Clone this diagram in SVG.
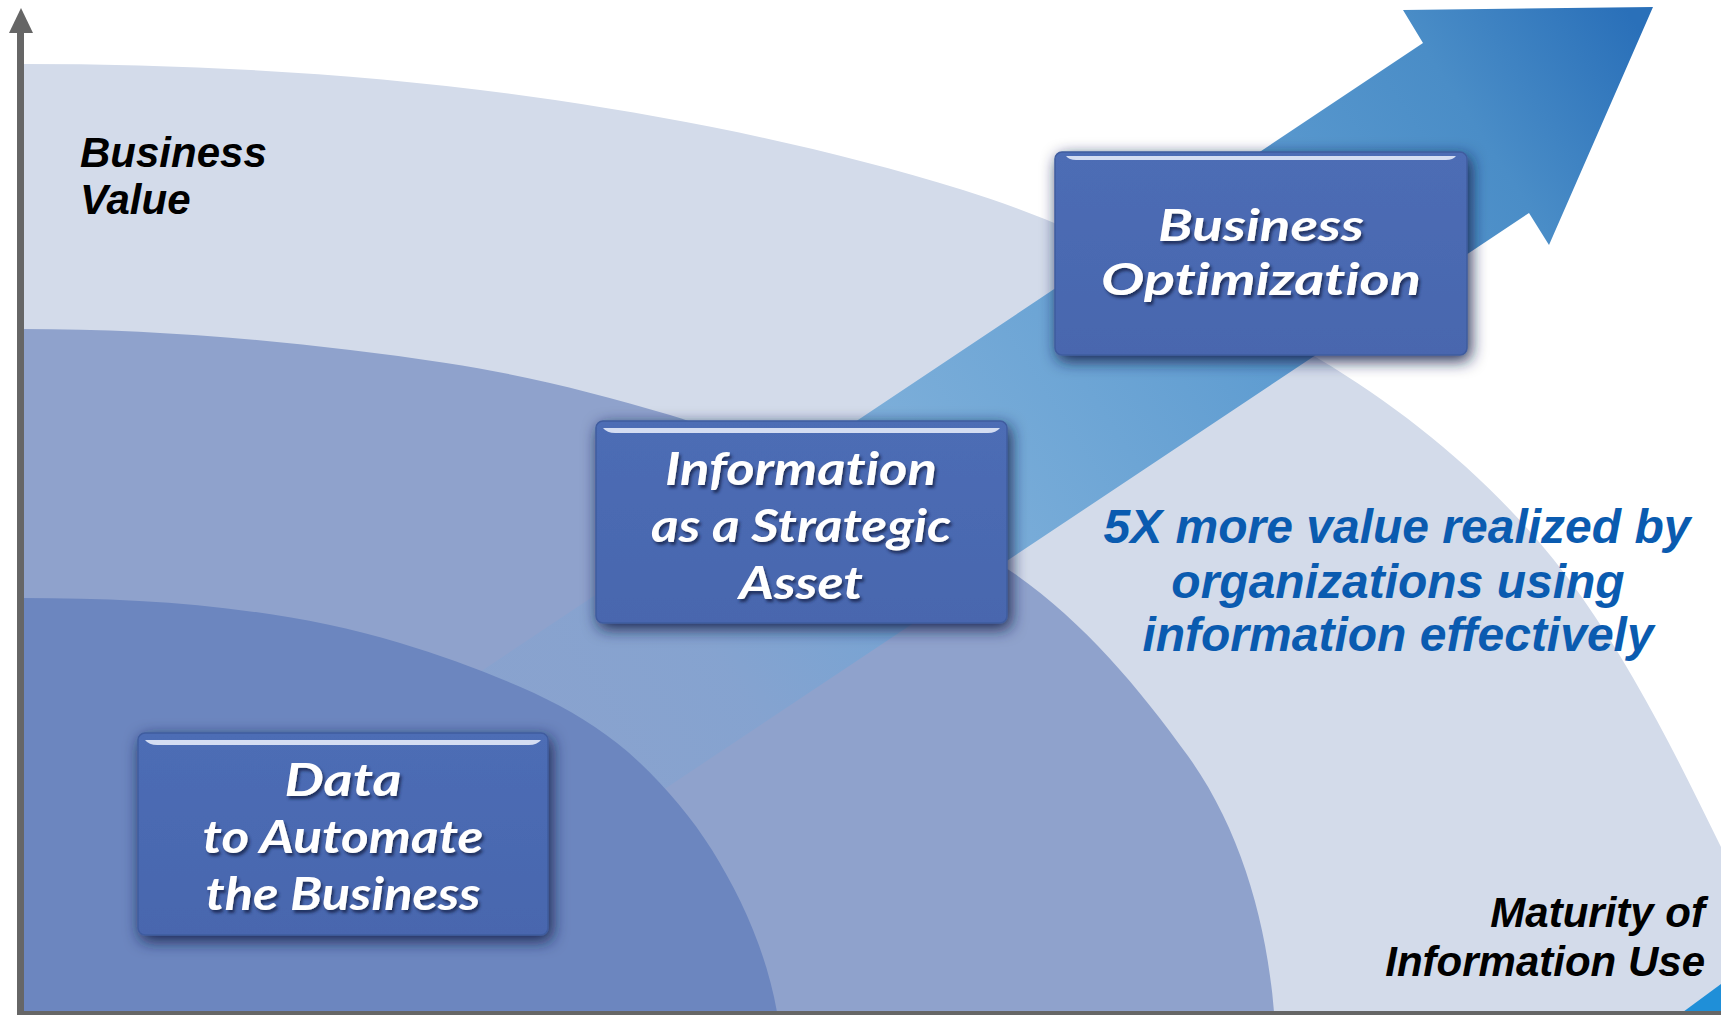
<svg xmlns="http://www.w3.org/2000/svg" width="1721" height="1015" viewBox="0 0 1721 1015">
<defs>
<style>
.band-light{fill:#d3dbea}
.band-mid{fill:#8fa2cc}
.band-dark{fill:#6c86bf}
.box{fill:url(#boxGrad);stroke:#3f5c9f;stroke-width:1.5}
.hl{fill:#d4ddf2}
.bt{font-family:Lato,"Open Sans",sans-serif;font-style:italic;font-weight:700;font-size:46px;fill:#ffffff;text-anchor:middle;font-variant-ligatures:none;font-feature-settings:"liga" 0,"dlig" 0}
.bt44{font-size:44px}
.lbl{font-family:"Liberation Sans",Arial,sans-serif;font-style:italic;font-weight:bold;font-size:42px;fill:#000000}
.blue{font-family:"Liberation Sans",Arial,sans-serif;font-style:italic;font-weight:bold;font-size:48px;fill:#0a5bb0;text-anchor:middle}
.axis{fill:#666666}
</style>
<linearGradient id="arrowGrad" gradientUnits="userSpaceOnUse" x1="600" y1="760" x2="1660" y2="60">
<stop offset="0" stop-color="#6fa5d8" stop-opacity="0.2"/>
<stop offset="0.12" stop-color="#6fa5d8" stop-opacity="0.3"/>
<stop offset="0.3" stop-color="#6aa5d6" stop-opacity="0.8"/>
<stop offset="0.6" stop-color="#5a9ad0" stop-opacity="0.95"/>
<stop offset="0.85" stop-color="#4a8dc7"/>
<stop offset="1" stop-color="#2a70b9"/>
</linearGradient>
<linearGradient id="boxGrad" x1="0" y1="0" x2="0" y2="1">
<stop offset="0" stop-color="#4d6db5"/>
<stop offset="1" stop-color="#4866ae"/>
</linearGradient>
<filter id="boxShadow" x="-12%" y="-18%" width="130%" height="145%">
<feGaussianBlur in="SourceAlpha" stdDeviation="8"/>
<feOffset dx="3" dy="5" result="b"/>
<feFlood flood-color="#14204a" flood-opacity="0.95"/>
<feComposite in2="b" operator="in"/>
<feMerge><feMergeNode/><feMergeNode in="SourceGraphic"/></feMerge>
</filter>
<filter id="textShadow" x="-10%" y="-30%" width="120%" height="160%">
<feGaussianBlur in="SourceAlpha" stdDeviation="1.5"/>
<feOffset dx="2" dy="3" result="b"/>
<feFlood flood-color="#1c2a55" flood-opacity="0.9"/>
<feComposite in2="b" operator="in"/>
<feMerge><feMergeNode/><feMergeNode in="SourceGraphic"/></feMerge>
</filter>
</defs>
<rect x="0" y="0" width="1721" height="1015" fill="#ffffff"/>
<g id="background">
<path class="band-light" d="M20,64 L22,64 C200,64 379,74 555,100 C692.5,120.3 830.3,148.9 963,190 C1088.1,228.8 1206.3,292.1 1319,359 C1420.5,419.3 1513.1,499.5 1581,596 C1636.2,674.5 1678.8,760.6 1721,847 L1760,940 L1760,1015 L20,1015 Z"/>
<path class="band-mid" d="M20,329 L22,329 C163.7,329 305.9,342 446,363 C521.9,374.4 596.5,393 670,415 C729.1,432.7 783.7,462.7 840,488 C899.3,514.7 961.8,536.8 1015,574 C1083.5,622 1139.1,688 1188,756 C1240.6,829.1 1266.8,922.3 1274,1012 L1275,1015 L20,1015 Z"/>
</g>
<g id="connectors">
<polygon points="480,672 1423,43 1403,10 1653,7 1549,245 1529,213 591,838" fill="url(#arrowGrad)"/>
</g>
<path class="band-dark" d="M20,598 L22,598 C149,598 278.3,606.6 400,643 C445.7,656.7 490.5,673.4 534,693 C568,709 600,728 628,752 C660,780 690,815 712,850 C740,895 766,950 777,1012 L778,1015 L20,1015 Z"/>
<polygon points="1683,1012 1721,984 1721,1012" fill="#1f8fd8"/>
<g id="node-data">
<rect class="box" x="138" y="733" width="410" height="202" rx="7" filter="url(#boxShadow)"/>
<path class="hl" d="M145,740 L541,740 Q537,745 529,745 L157,745 Q149,745 145,740 Z"/>
<g filter="url(#textShadow)">
<text class="bt" x="343" y="796" textLength="117" lengthAdjust="spacingAndGlyphs">Data</text>
<text class="bt" x="343" y="853" textLength="281" lengthAdjust="spacingAndGlyphs">to Automate</text>
<text class="bt" x="343" y="910" textLength="275" lengthAdjust="spacingAndGlyphs">the Business</text>
</g>
</g>
<g id="node-info">
<rect class="box" x="596" y="421" width="411" height="202" rx="7" filter="url(#boxShadow)"/>
<path class="hl" d="M603,428 L1000,428 Q996,433 988,433 L615,433 Q607,433 603,428 Z"/>
<g filter="url(#textShadow)">
<text class="bt" x="801" y="485" textLength="272" lengthAdjust="spacingAndGlyphs">Information</text>
<text class="bt" x="801" y="542" textLength="300" lengthAdjust="spacingAndGlyphs">as a Strategic</text>
<text class="bt" x="801" y="599" textLength="124" lengthAdjust="spacingAndGlyphs">Asset</text>
</g>
</g>
<g id="node-opt">
<rect class="box" x="1055" y="152" width="412" height="203" rx="7" filter="url(#boxShadow)"/>
<path class="hl" d="M1066,156 L1456,156 Q1453,160 1446,160 L1076,160 Q1069,160 1066,156 Z"/>
<g filter="url(#textShadow)">
<text class="bt bt44" x="1261" y="241" textLength="206" lengthAdjust="spacingAndGlyphs">Business</text>
<text class="bt bt44" x="1261" y="295" textLength="320" lengthAdjust="spacingAndGlyphs">Optimization</text>
</g>
</g>
<g id="labels">
<text class="lbl" x="80" y="167">Business</text>
<text class="lbl" x="80" y="214">Value</text>
<text class="lbl" x="1705" y="927" text-anchor="end">Maturity of</text>
<text class="lbl" x="1705" y="976" text-anchor="end">Information Use</text>
<text class="blue" x="1397" y="543">5X more value realized by</text>
<text class="blue" x="1398" y="598">organizations using</text>
<text class="blue" x="1398" y="651">information effectively</text>
</g>
<g id="axes">
<rect class="axis" x="17" y="30" width="7" height="985"/>
<polygon class="axis" points="9,33 33,33 21,8"/>
<rect class="axis" x="17" y="1011" width="1704" height="4"/>
</g>
</svg>
